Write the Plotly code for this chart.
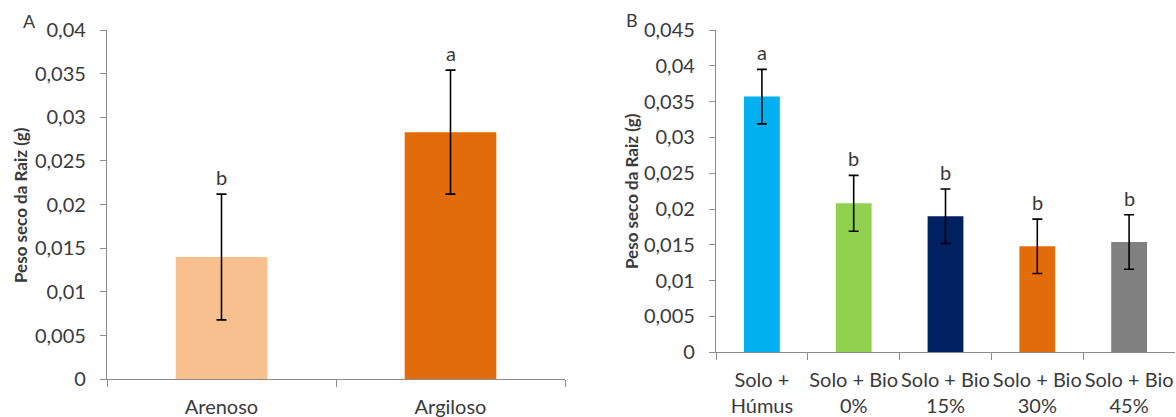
import plotly.graph_objects as go

# ---- Data ----
soil_types = ["Arenoso", "Argiloso"]
soil_values = [0.0140, 0.0283]
soil_errors = [0.0072, 0.0071]
soil_letters = ["b", "a"]
soil_colors = ["#F9C08F", "#E36C0A"]

treatments = ["Solo +<br>Húmus", "Solo + Bio<br>0%", "Solo + Bio<br>15%", "Solo + Bio<br>30%", "Solo + Bio<br>45%"]
treat_values = [0.0357, 0.0208, 0.0190, 0.0148, 0.0154]
treat_errors = [0.0038, 0.0039, 0.0038, 0.0038, 0.0038]
treat_letters = ["a", "b", "b", "b", "b"]
treat_colors = ["#00B0F0", "#92D050", "#002060", "#E36C0A", "#808080"]

yticks_a = [0, 0.005, 0.01, 0.015, 0.02, 0.025, 0.03, 0.035, 0.04]
yticks_a_text = ["0", "0,005", "0,01", "0,015", "0,02", "0,025", "0,03", "0,035", "0,04"]
yticks_b = [0, 0.005, 0.01, 0.015, 0.02, 0.025, 0.03, 0.035, 0.04, 0.045]
yticks_b_text = ["0", "0,005", "0,01", "0,015", "0,02", "0,025", "0,03", "0,035", "0,04", "0,045"]

y_title = "Peso seco da Raiz (g)"

FONT = "Lato"
TXT = "#3a3a3a"
AX = "#8c8c8c"
W, H = 1176, 417
FS = 20

fig = go.Figure()
fig.add_trace(go.Bar(
    x=soil_types, y=soil_values, marker=dict(color=soil_colors, line=dict(width=0)),
    error_y=dict(type="data", array=soil_errors, color="black", thickness=1.6, width=5),
    xaxis="x", yaxis="y", showlegend=False,
))
fig.add_trace(go.Bar(
    x=treatments, y=treat_values, marker=dict(color=treat_colors, line=dict(width=0)),
    error_y=dict(type="data", array=treat_errors, color="black", thickness=1.6, width=5),
    xaxis="x2", yaxis="y2", showlegend=False,
))

annotations = []
for c, v, e, l in zip(soil_types, soil_values, soil_errors, soil_letters):
    annotations.append(dict(x=c, y=v + e, xref="x", yref="y", text=l, showarrow=False,
                            yanchor="middle", yshift=17, font=dict(size=FS, color=TXT, family=FONT)))
for c, v, e, l in zip(treatments, treat_values, treat_errors, treat_letters):
    annotations.append(dict(x=c, y=v + e, xref="x2", yref="y2", text=l, showarrow=False,
                            yanchor="middle", yshift=17, font=dict(size=FS, color=TXT, family=FONT)))

# panel letters
annotations.append(dict(x=29 / W, y=1 - 21 / H, xref="paper", yref="paper", text="A", showarrow=False,
                        xanchor="center", yanchor="middle", font=dict(size=18, color=TXT, family=FONT)))
annotations.append(dict(x=632 / W, y=1 - 20 / H, xref="paper", yref="paper", text="B", showarrow=False,
                        xanchor="center", yanchor="middle", font=dict(size=18, color=TXT, family=FONT)))
# y titles
annotations.append(dict(x=20 / W, y=1 - 205 / H, xref="paper", yref="paper", text="<b>" + y_title + "</b>",
                        showarrow=False, textangle=-90, xanchor="center", yanchor="middle",
                        font=dict(size=17, color=TXT, family=FONT)))
annotations.append(dict(x=631 / W, y=1 - 191 / H, xref="paper", yref="paper", text="<b>" + y_title + "</b>",
                        showarrow=False, textangle=-90, xanchor="center", yanchor="middle",
                        font=dict(size=17, color=TXT, family=FONT)))

xcommon = dict(type="category", showline=True, linecolor=AX, linewidth=1.3, ticks="outside",
               tickson="boundaries", ticklen=7, tickcolor=AX, tickwidth=1.3, showgrid=False,
               zeroline=False, tickfont=dict(size=FS, color=TXT, family=FONT), ticklabelstandoff=10,
               tickangle=0, automargin=False)
ycommon = dict(showline=True, linecolor=AX, linewidth=1.3, ticks="outside", ticklen=6, tickcolor=AX,
               tickwidth=1.3, showgrid=False, zeroline=False, tickfont=dict(size=FS, color=TXT, family=FONT),
               ticklabelstandoff=10, automargin=False)

fig.update_layout(
    width=W, height=H, margin=dict(l=0, r=0, t=0, b=0, autoexpand=False),
    paper_bgcolor="white", plot_bgcolor="white",
    font=dict(family=FONT, color=TXT),
    xaxis=dict(domain=[107 / W, 565 / W], anchor="y", **xcommon),
    yaxis=dict(domain=[1 - 379.3 / H, 1 - 30 / H], anchor="x", range=[0, 0.04],
               tickvals=yticks_a, ticktext=yticks_a_text, **ycommon),
    xaxis2=dict(domain=[716 / W, 1175 / W], anchor="y2", **xcommon),
    yaxis2=dict(domain=[1 - 352.3 / H, 1 - 30 / H], anchor="x2", range=[0, 0.045],
                tickvals=yticks_b, ticktext=yticks_b_text, **ycommon),
    annotations=annotations,
)
fig.update_traces(width=0.4, selector=dict(xaxis="x"))
fig.update_traces(width=0.39, selector=dict(xaxis="x2"))

fig.write_html(
    "out.html",
    config={"displayModeBar": False},
    post_script="document.body.style.margin='0';document.body.style.overflow='hidden';",
)
